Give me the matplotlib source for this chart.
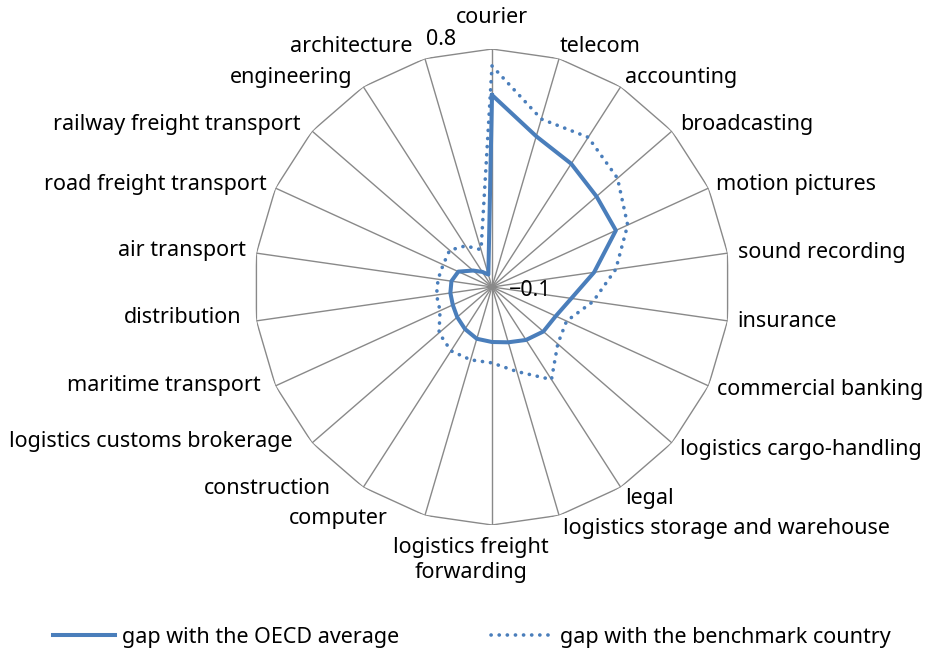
import numpy as np
import matplotlib.pyplot as plt
from matplotlib.lines import Line2D

plt.rcParams['font.family'] = ['Noto Sans', 'DejaVu Sans']
plt.rcParams['font.size'] = 15.5

# categories, clockwise from the top
categories = ['courier', 'telecom', 'accounting', 'broadcasting', 'motion pictures',
              'sound recording', 'insurance', 'commercial banking',
              'logistics cargo-handling', 'legal', 'logistics storage and warehouse',
              'logistics freight\nforwarding', 'computer', 'construction',
              'logistics customs brokerage', 'maritime transport', 'distribution',
              'air transport', 'road freight transport', 'railway freight transport',
              'engineering', 'architecture']

oecd_gap = [0.626, 0.494, 0.454, 0.423, 0.415, 0.290, 0.203, 0.165, 0.157, 0.138, 0.118,
            0.108, 0.104, 0.089, 0.074, 0.063, 0.059, 0.055, 0.040, -0.005, -0.032, -0.051]
bench_gap = [0.736, 0.562, 0.573, 0.528, 0.464, 0.373, 0.286, 0.210, 0.229, 0.316, 0.233,
             0.187, 0.187, 0.187, 0.165, 0.116, 0.112, 0.106, 0.103, 0.112, 0.085, 0.047]

r_min, r_max = -0.1, 0.8

# label offsets from the outer vertex (pixels), and alignment
label_pos = [(0, 32, 'center'), (1, 12, 'left'), (4, 9, 'left'), (8, 7, 'left'),
             (8, 4, 'left'), (10, 1, 'left'), (10, -1, 'left'), (9, -4, 'left'),
             (8, -7, 'left'), (4, -11, 'left'), (4, -13, 'left'), (-21, -35, 'center'),
             (-37, -3, 'right'), (-32, -1, 'right'), (-20, 1, 'right'), (-15, 0, 'right'),
             (-15, 3, 'right'), (-11, 3, 'right'), (-9, 4, 'right'), (-12, 7, 'right'),
             (-11, 9, 'right'), (-13, 12, 'right')]

n = len(categories)
angles = np.linspace(0, 2 * np.pi, n, endpoint=False)
closed = np.append(angles, angles[0])

fig = plt.figure(figsize=(9.25, 6.53), dpi=100)
ax = fig.add_axes([254 / 925, 128 / 653, 476 / 925, 476 / 653], projection='polar')
ax.set_theta_offset(np.pi / 2)
ax.set_theta_direction(-1)
ax.set_ylim(r_min, r_max)
ax.set_yticks([])
ax.set_xticks(angles)
ax.set_xticklabels([])
ax.xaxis.grid(True, color='#898989', linewidth=1.0)
ax.spines['polar'].set_visible(False)

# outer polygon
ax.plot(closed, [r_max] * (n + 1), color='#898989', linewidth=1.0, zorder=2)

blue = '#4a7ebb'
ax.plot(closed, np.append(oecd_gap, oecd_gap[0]), color=blue, linewidth=2.9, zorder=4)
ax.plot(closed, np.append(bench_gap, bench_gap[0]), color=blue, linewidth=2.6,
        linestyle=(0, (0.05, 2.2)), dash_capstyle='round', zorder=4)

for a, lab, (dx, dy, ha) in zip(angles, categories, label_pos):
    ax.annotate(lab, xy=(a, r_max), xytext=(dx, dy), textcoords='offset pixels',
                ha=ha, va='center', multialignment='center', linespacing=1.25,
                annotation_clip=False)

# axis value labels
ax.annotate('0.8', xy=(0, r_max), xytext=(-36, 10), textcoords='offset pixels',
            ha='right', va='center', annotation_clip=False)
ax.annotate('\u22120.1', xy=(0, r_min), xytext=(17, -3), textcoords='offset pixels',
            ha='left', va='center', annotation_clip=False)

handles = [Line2D([], [], color=blue, linewidth=2.9),
           Line2D([], [], color=blue, linewidth=2.6, linestyle=(0, (0.05, 2.2)),
                  dash_capstyle='round')]
fig.legend(handles, ['gap with the OECD average', 'gap with the benchmark country'],
           loc='center', bbox_to_anchor=(472 / 925, 1 - 637 / 653), ncol=2,
           frameon=False, handlelength=2.9, handletextpad=0.3, columnspacing=4.3)

fig.savefig('out.png', dpi=100)
